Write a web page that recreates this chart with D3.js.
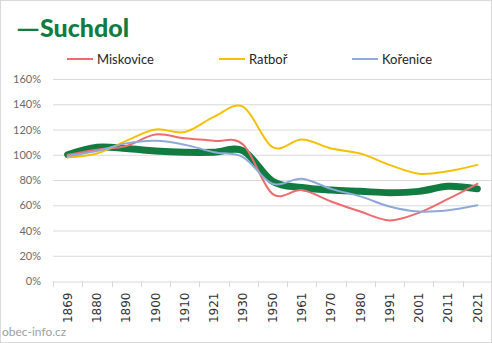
<!DOCTYPE html>
<html><head><meta charset="utf-8">
<script src="https://cdn.jsdelivr.net/npm/d3@7"></script>
<style>body{margin:0;background:#fff}svg{display:block}</style>
</head><body>
<svg id="c" width="492" height="343"></svg>
<script>
const years = ["1869","1880","1890","1900","1910","1921","1930","1950","1961","1970","1980","1991","2001","2011","2021"];
const suchdol   = [100,106,105,103,102,102,103,79,74,72,71,70,71,75,73];
const miskovice = [100,104,107,116,113,111,108,69,72,63,55,48,54,65,77];
const ratbor    = [98,101,111,120,118,130,138,106,112,105,101,92,85,87,92];
const korenice  = [99,103,109,111,108,102,98,77,81,73,67,59,55,56,60];
const yTicks = [0,20,40,60,80,100,120,140,160];
const seriesNames = ["Miskovice","Ratboř","Kořenice"];
const colors = {Suchdol:"#107c41", Miskovice:"#ee6b6e", "Ratboř":"#f5c000", "Kořenice":"#8eaadb"};

const svg = d3.select("#c");
svg.append("rect").attr("x",0.5).attr("y",0.5).attr("width",491).attr("height",342)
  .attr("fill","#fff").attr("stroke","#d9d9d9");

const x = d3.scaleBand().domain(years).range([53,492]);
const y = d3.scaleLinear().domain([0,160]).range([281,79]);

svg.append("g").selectAll("line").data(yTicks.filter(d=>d>0)).join("line")
  .attr("x1",53).attr("x2",491).attr("y1",d=>y(d)+0.5).attr("y2",d=>y(d)+0.5)
  .attr("stroke","#d9d9d9").attr("stroke-width",1);

const ya = svg.append("g").attr("transform","translate(41,0)")
  .call(d3.axisLeft(y).tickValues(yTicks).tickFormat(d=>d+"%").tickSize(0).tickPadding(0));
ya.select(".domain").remove();
ya.selectAll("text").attr("font-family","Lato, 'Open Sans', sans-serif").attr("font-size",11).attr("fill","#6b6b6b");

const xa = svg.append("g").attr("transform","translate(0,281.5)")
  .call(d3.axisBottom(x).tickSize(0).tickPadding(0));
xa.select(".domain").attr("stroke","#d9d9d9");
xa.selectAll(".tick text").attr("transform","rotate(-90)").attr("text-anchor","end")
  .attr("dx","-11").attr("dy","0.35em")
  .attr("font-family","'DejaVu Sans', sans-serif").attr("font-size",12).attr("fill","#333");
svg.append("g").selectAll("line").data(years).join("line")
  .attr("x1",d=>Math.round(x(d))+0.5).attr("x2",d=>Math.round(x(d))+0.5)
  .attr("y1",281).attr("y2",287).attr("stroke","#d9d9d9");

const line = d3.line().x((d,i)=>x(years[i])+x.bandwidth()/2).y(d=>y(d))
  .curve(d3.curveCardinal.tension(0));

svg.append("path").attr("d",line(suchdol)).attr("fill","none")
  .attr("stroke",colors.Suchdol).attr("stroke-width",7).attr("stroke-linecap","round");
const others = [["Miskovice",miskovice],["Ratboř",ratbor],["Kořenice",korenice]];
others.forEach(([n,v])=>{
  svg.append("path").attr("d",line(v)).attr("fill","none")
    .attr("stroke",colors[n]).attr("stroke-width",2).attr("stroke-linecap","round");
});

const t = svg.append("text").attr("x",16).attr("y",37)
  .attr("font-family","Lato, 'Open Sans', sans-serif").attr("font-weight","900")
  .attr("font-size",25).attr("fill","#107c41");
t.append("tspan").attr("textLength",24).attr("lengthAdjust","spacingAndGlyphs").text("—");
t.append("tspan").text("Suchdol");

const legX = [67,219,352];
seriesNames.forEach((n,i)=>{
  svg.append("line").attr("x1",legX[i]).attr("x2",legX[i]+26).attr("y1",59).attr("y2",59)
    .attr("stroke",colors[n]).attr("stroke-width",2);
  svg.append("text").attr("x",legX[i]+30).attr("y",63.5)
    .attr("font-family","Lato, 'Open Sans', sans-serif").attr("font-size",13).attr("fill","#262626").text(n);
});

svg.append("text").attr("x",2).attr("y",336).attr("font-family","Lato, 'Open Sans', sans-serif")
  .attr("font-size",12).attr("fill","#a0a0a0").text("obec-info.cz");
</script>
</body></html>
